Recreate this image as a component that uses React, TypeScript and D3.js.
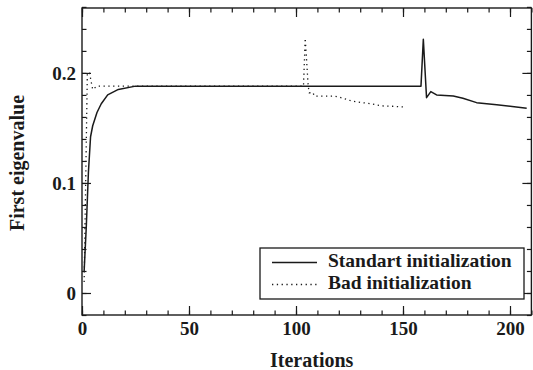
import React, { useEffect, useRef } from 'react';
import * as d3 from 'd3';

const standardIter = [1, 2, 3, 4, 5, 7, 9, 12, 17, 25, 40, 158.4, 159.5, 161, 163, 165.7, 173.5, 178, 184.4, 193.8, 207.8];
const standardValue = [0.02, 0.06, 0.11, 0.142, 0.152, 0.164, 0.172, 0.18, 0.185, 0.188, 0.188, 0.188, 0.2306, 0.1775, 0.183, 0.18, 0.179, 0.177, 0.173, 0.171, 0.168];

const badIter = [1, 2.5, 3.5, 5, 7, 103.5, 104.3, 105.7, 106.2, 108, 108.5, 115, 118, 122, 126, 131, 135, 140, 145, 151];
const badValue = [0.01, 0.2, 0.2, 0.185, 0.188, 0.188, 0.2315, 0.188, 0.182, 0.182, 0.179, 0.179, 0.179, 0.177, 0.1745, 0.173, 0.172, 0.17, 0.1697, 0.169];

const xMajor = [0, 50, 100, 150, 200];
const yMajor = [0, 0.1, 0.2];
const legendLabels = ['Standart initialization', 'Bad initialization'];

const W = 533;
const H = 370;
const FONT = '"Liberation Serif", "Times New Roman", serif';

export default function App() {
  const svgRef = useRef<SVGSVGElement>(null);

  useEffect(() => {
    if (!svgRef.current) return;
    const svg = d3.select(svgRef.current);
    svg.selectAll('*').remove();

    const left = 82, right = 531.4, top = 8, bottom = 315;
    const x = d3.scaleLinear().domain([0, 210]).range([left, right]);
    const y = d3.scaleLinear().domain([-0.02, 0.259]).range([bottom, top]);

    const ink = '#1a1a1a';
    const xMinor = d3.range(0, 211, 10);
    const yMinor = d3.range(-0.02, 0.26, 0.02);

    const styleAxis = (g: d3.Selection<SVGGElement, unknown, null, undefined>) => {
      g.select('.domain').remove();
      g.selectAll('line').attr('stroke', ink).attr('stroke-width', 1.2);
      g.selectAll('text')
        .attr('fill', ink)
        .style('font-family', FONT)
        .style('font-size', '19px')
        .style('font-weight', 'bold');
    };

    // minor ticks on every side
    svg.append('g').attr('transform', `translate(0,${bottom})`)
      .call(d3.axisBottom(x).tickValues(xMinor).tickSize(-4.5).tickFormat(() => '')).call(styleAxis);
    svg.append('g').attr('transform', `translate(0,${top})`)
      .call(d3.axisTop(x).tickValues(xMinor).tickSize(-4.5).tickFormat(() => '')).call(styleAxis);
    svg.append('g').attr('transform', `translate(${left},0)`)
      .call(d3.axisLeft(y).tickValues(yMinor).tickSize(-4.5).tickFormat(() => '')).call(styleAxis);
    svg.append('g').attr('transform', `translate(${right},0)`)
      .call(d3.axisRight(y).tickValues(yMinor).tickSize(-4.5).tickFormat(() => '')).call(styleAxis);

    // major ticks
    svg.append('g').attr('transform', `translate(0,${bottom})`)
      .call(d3.axisBottom(x).tickValues(xMajor).tickSize(-9).tickPadding(6.5).tickFormat(d3.format('d')))
      .call(styleAxis);
    svg.append('g').attr('transform', `translate(0,${top})`)
      .call(d3.axisTop(x).tickValues(xMajor).tickSize(-9).tickFormat(() => ''))
      .call(styleAxis);
    svg.append('g').attr('transform', `translate(${left},0)`)
      .call(d3.axisLeft(y).tickValues(yMajor).tickSize(-9).tickPadding(6).tickFormat(d => (d === 0 ? '0' : d3.format('.1f')(d as number))))
      .call(styleAxis);
    svg.append('g').attr('transform', `translate(${right},0)`)
      .call(d3.axisRight(y).tickValues(yMajor).tickSize(-9).tickFormat(() => ''))
      .call(styleAxis);

    // frame
    svg.append('rect')
      .attr('x', left).attr('y', top)
      .attr('width', right - left).attr('height', bottom - top)
      .attr('fill', 'none').attr('stroke', ink).attr('stroke-width', 1.4);

    const line = d3.line<[number, number]>()
      .x(d => x(d[0]))
      .y(d => y(d[1]));

    const badPts = badIter.map((v, i) => [v, badValue[i]] as [number, number]);
    const stdPts = standardIter.map((v, i) => [v, standardValue[i]] as [number, number]);

    svg.append('path')
      .attr('d', line(badPts))
      .attr('fill', 'none')
      .attr('stroke', ink)
      .attr('stroke-width', 1.3)
      .attr('stroke-dasharray', '1.3 3.5');

    svg.append('path')
      .attr('d', line(stdPts))
      .attr('fill', 'none')
      .attr('stroke', ink)
      .attr('stroke-width', 1.5)
      .attr('stroke-linejoin', 'round');

    // legend
    const lg = svg.append('g');
    lg.append('rect')
      .attr('x', 260).attr('y', 248)
      .attr('width', 264).attr('height', 51)
      .attr('fill', 'white').attr('stroke', ink).attr('stroke-width', 1.3);
    legendLabels.forEach((label, i) => {
      const cy = 262.5 + i * 22;
      lg.append('line')
        .attr('x1', 272).attr('x2', 317)
        .attr('y1', cy).attr('y2', cy)
        .attr('stroke', ink)
        .attr('stroke-width', i === 0 ? 1.5 : 1.3)
        .attr('stroke-dasharray', i === 0 ? null : '1.3 3.5');
      lg.append('text')
        .attr('x', 328).attr('y', cy + 4.5)
        .attr('fill', ink)
        .style('font-family', FONT)
        .style('font-size', '19.5px')
        .style('font-weight', 'bold')
        .text(label);
    });

    // axis titles
    svg.append('text')
      .attr('x', 311.7).attr('y', 366.5)
      .attr('text-anchor', 'middle')
      .attr('fill', ink)
      .style('font-family', FONT).style('font-size', '20px').style('font-weight', 'bold')
      .text('Iterations');
    svg.append('text')
      .attr('transform', 'translate(23.5,163) rotate(-90)')
      .attr('text-anchor', 'middle')
      .attr('fill', ink)
      .style('font-family', FONT).style('font-size', '20px').style('font-weight', 'bold')
      .text('First eigenvalue');
  }, []);

  return (
    <div style={{ position: 'fixed', left: 0, top: 0, background: 'white' }}>
      <svg ref={svgRef} width={W} height={H} viewBox={`0 0 ${W} ${H}`} style={{ display: 'block' }} />
    </div>
  );
}
